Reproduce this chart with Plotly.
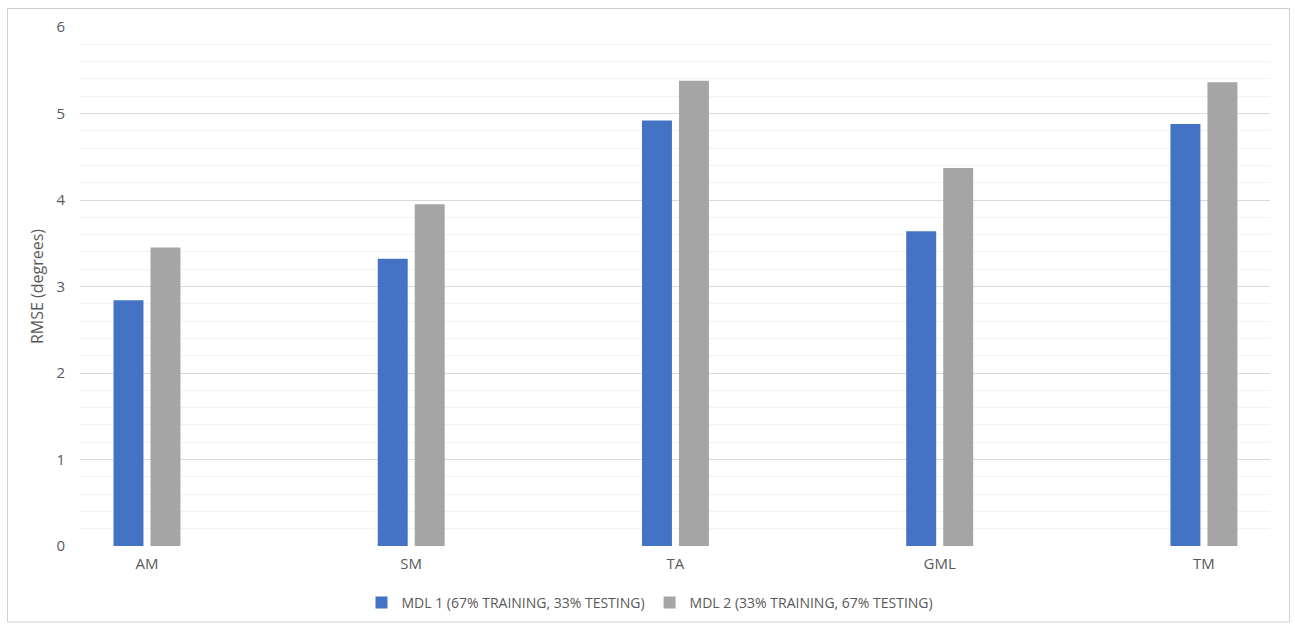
import plotly.graph_objects as go

categories = ["AM", "SM", "TA", "GML", "TM"]
mdl1_rmse = [2.84, 3.32, 4.92, 3.64, 4.88]
mdl2_rmse = [3.45, 3.95, 5.38, 4.37, 5.36]
series_names = ["MDL 1 (67% TRAINING, 33% TESTING)", "MDL 2 (33% TRAINING, 67% TESTING)"]
y_ticks = [0, 1, 2, 3, 4, 5, 6]

TEXT = "#595959"
FONT = "Open Sans"

fig = go.Figure()
fig.add_trace(go.Bar(x=list(range(len(categories))), y=mdl1_rmse, name=series_names[0],
                     marker=dict(color="#4472C4", line=dict(width=0))))
fig.add_trace(go.Bar(x=list(range(len(categories))), y=mdl2_rmse, name=series_names[1],
                     marker=dict(color="#A5A5A5", line=dict(width=0))))

W, H = 1295, 626
L, R, T, B = 80, 25, 27, 80
pw, ph = W - L - R, H - T - B

def px_x(x):
    return (x - L) / pw

def px_y(y):
    return (H - B - y) / ph

fig.update_layout(
    width=W, height=H,
    margin=dict(l=L, r=R, t=T, b=B),
    paper_bgcolor="white", plot_bgcolor="white",
    barmode="group", bargap=0.72, bargroupgap=0.19,
    font=dict(family=FONT, color=TEXT, size=15),
    showlegend=True,
    legend=dict(orientation="h", xref="container", yref="container",
                x=650 / W, y=1 - 603 / H, xanchor="center", yanchor="middle",
                font=dict(size=14, color=TEXT), itemwidth=30, tracegroupgap=0),
    xaxis=dict(tickmode="array", tickvals=list(range(len(categories))), ticktext=categories,
               range=[-0.2535, 4.25], showgrid=False, zeroline=False, showline=False,
               ticks="", ticklabelstandoff=7, tickfont=dict(size=15, color=TEXT)),
    yaxis=dict(range=[0, 6], tickmode="array", tickvals=y_ticks, ticktext=[str(v) for v in y_ticks],
               showgrid=True, gridcolor="#D9D9D9", gridwidth=1,
               minor=dict(dtick=0.2, showgrid=True, gridcolor="#F2F2F2", gridwidth=1),
               zeroline=False, showline=False, ticks="", ticklabelstandoff=14,
               tickfont=dict(size=15, color=TEXT),
               title=dict(text="RMSE (degrees)", standoff=8, font=dict(size=16, color=TEXT))),
    shapes=[dict(type="rect", xref="paper", yref="paper",
                 x0=px_x(7.5), x1=px_x(1289.5), y0=px_y(622), y1=px_y(8.5),
                 line=dict(color="#D0D0D0", width=1), fillcolor="rgba(0,0,0,0)", layer="below")],
)

fig.write_html("out.html")
